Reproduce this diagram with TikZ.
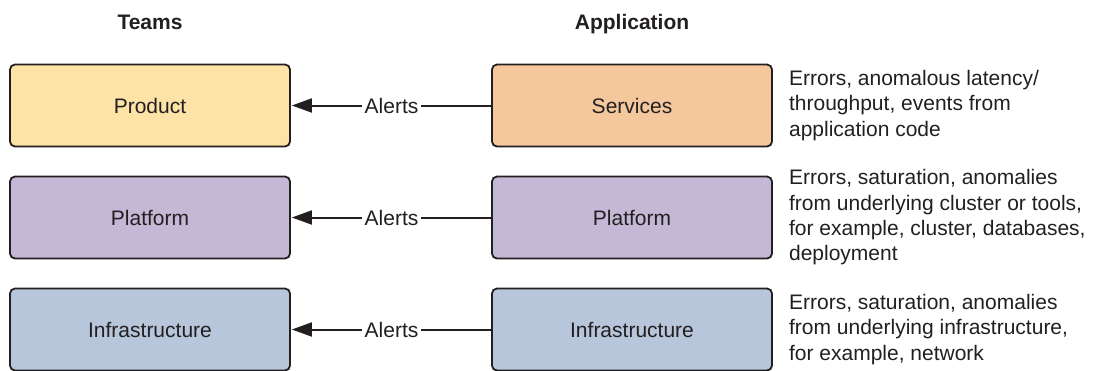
\documentclass[tikz,border=0pt]{standalone}
\usepackage{fontspec}
\setmainfont{Liberation Sans}
\usetikzlibrary{arrows.meta,positioning}
\definecolor{ProductFill} {HTML}{FDE3A6}
\definecolor{ServiceFill} {HTML}{F4C79D}
\definecolor{PlatformFill}{HTML}{C3B8D5}
\definecolor{InfraFill}   {HTML}{B7C6DA}
\definecolor{EdgeDark}    {HTML}{231F20}
\tikzset{
  box/.style={draw=EdgeDark,line width=1.8pt,rounded corners=5pt,
              minimum width=280pt,minimum height=82pt,inner sep=0pt,
              font=\fontsize{21}{25}\selectfont,text=EdgeDark},
  head/.style={anchor=base,font=\fontsize{21}{25}\selectfont\bfseries,text=EdgeDark},
  note/.style={inner sep=0pt,align=left,anchor=west,
               font=\fontsize{21}{25.3}\selectfont,text=EdgeDark},
  alert/.style={draw=EdgeDark,line width=2pt,
                -{Triangle[length=20pt,width=14pt]}},
  lbl/.style={fill=white,inner sep=3pt,font=\fontsize{21}{25}\selectfont,text=EdgeDark}
}
\begin{document}
\begin{tikzpicture}[x=1pt,y=-1pt]
  \useasboundingbox (0,0) rectangle (1093,370);
  % column headings
  \node[head] (teams) at (150,29) {Teams};
  \node[head] (app)   at (632,29) {Application};
  % teams
  \node[box,fill=ProductFill]  (tprod)  at (150,105.5) {Product};
  \node[box,fill=PlatformFill] (tplat)  at (150,217.5) {Platform};
  \node[box,fill=InfraFill]    (tinfra) at (150,329.5) {Infrastructure};
  % application layers
  \node[box,fill=ServiceFill]  (asvc)   at (632,105.5) {Services};
  \node[box,fill=PlatformFill] (aplat)  at (632,217.5) {Platform};
  \node[box,fill=InfraFill]    (ainfra) at (632,329.5) {Infrastructure};
  % alerts
  \foreach \src/\dst in {asvc/tprod,aplat/tplat,ainfra/tinfra}{
    \draw[alert] (\src.west) -- node[lbl,pos=0.5]{Alerts} ([xshift=1pt]\dst.east);
  }
  % what triggers them
  \node[note,right=16pt of asvc] (nsvc)
    {Errors, anomalous latency/\\throughput, events from\\application code};
  \node[note,right=16pt of aplat] (nplat)
    {Errors, saturation, anomalies\\from underlying cluster or tools,\\for example, cluster, databases,\\deployment};
  \node[note,right=16pt of ainfra] (ninfra)
    {Errors, saturation, anomalies\\from underlying infrastructure,\\for example, network};
\end{tikzpicture}
\end{document}
